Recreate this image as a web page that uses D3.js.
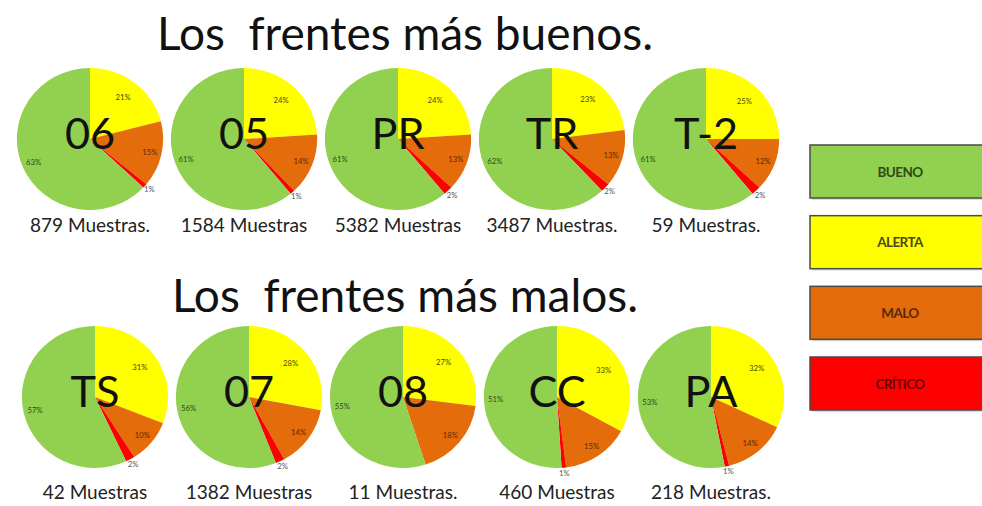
<!DOCTYPE html>
<html>
<head>
<meta charset="utf-8">
<script src="https://cdn.jsdelivr.net/npm/d3@7"></script>
<style>
	body { margin: 0; background: #ffffff; }
	svg text { font-family: Lato, "Open Sans", sans-serif; }
</style>
</head>
<body>
<div id="chart"></div>
<script>
var w = 982,
	h = 506;

// categorias (orden del dibujo: alerta, malo, critico, bueno)
var estados = ["ALERTA", "MALO", "CRÍTICO", "BUENO"];
var leyenda = ["BUENO", "ALERTA", "MALO", "CRÍTICO"];

// frentes buenos
var codigosTop = ["06", "05", "PR", "TR", "T-2"];
var muestrasTop = ["879 Muestras.", "1584 Muestras", "5382 Muestras", "3487 Muestras.", "59 Muestras."];
var buenoTop = [63, 61, 61, 62, 61];
var alertaTop = [21, 24, 24, 23, 25];
var maloTop = [15, 14, 13, 13, 12];
var criticoTop = [1, 1, 2, 2, 2];

// frentes malos
var codigosBot = ["TS", "07", "08", "CC", "PA"];
var muestrasBot = ["42 Muestras", "1382 Muestras", "11 Muestras.", "460 Muestras", "218 Muestras."];
var buenoBot = [57, 56, 55, 51, 53];
var alertaBot = [31, 28, 27, 33, 32];
var maloBot = [10, 14, 18, 15, 14];
var criticoBot = [2, 2, 0, 1, 1];

var color = d3.scaleOrdinal()
	.domain(estados)
	.range(["#ffff00", "#e46c0a", "#ff0000", "#92d050"]);

var textColor = d3.scaleOrdinal()
	.domain(estados)
	.range(["#4a4a10", "#5a2a06", "#6a0000", "#2e4a18"]);

var svg = d3.select("#chart")
	.append("svg")
	.attr("width", w)
	.attr("height", h);

var r = 71;
var pie = d3.pie().sort(null).value(function(d) { return d.v; });
var arc = d3.arc().innerRadius(0).outerRadius(r);

function fila(codigos, muestras, bueno, alerta, malo, critico, x0, x1, cy, titulo, tituloY, textoY) {
	svg.append("text")
		.attr("x", 405)
		.attr("y", tituloY)
		.attr("text-anchor", "middle")
		.attr("font-size", 46)
		.style("white-space", "pre")
		.attr("fill", "#111")
		.text(titulo);

	var x = d3.scalePoint().domain(codigos).range([x0, x1]);

	codigos.forEach(function(c, i) {
		var datos = [
			{k: "ALERTA", v: alerta[i]},
			{k: "MALO", v: malo[i]},
			{k: "CRÍTICO", v: critico[i]},
			{k: "BUENO", v: bueno[i]}
		];
		var g = svg.append("g")
			.attr("transform", "translate(" + x(c) + "," + cy + ") scale(1.03,1)");

		var slices = pie(datos);
		g.selectAll("path")
			.data(slices)
			.enter()
			.append("path")
			.attr("d", arc)
			.attr("fill", function(d) { return color(d.data.k); });

		g.selectAll(".pct")
			.data(slices.filter(function(d) { return d.data.v > 0; }))
			.enter()
			.append("text")
			.attr("class", "pct")
			.attr("transform", function(d) {
				var a = (d.startAngle + d.endAngle) / 2;
				var k = d.data.k == "CRÍTICO" ? 1.08 : (d.data.k == "ALERTA" ? 0.74 : 0.84);
				return "translate(" + (Math.sin(a) * r * k) + "," + (-Math.cos(a) * r * k) + ")";
			})
			.attr("dy", "0.35em")
			.attr("text-anchor", "middle")
			.attr("font-size", 7.5)
			.attr("fill", function(d) { return d.data.k == "CRÍTICO" ? "#555" : textColor(d.data.k); })
			.text(function(d) { return d.data.v + "%"; });

		g.append("text")
			.attr("y", 10)
			.attr("text-anchor", "middle")
			.attr("font-size", 42)
			.attr("fill", "#111")
			.text(c);

		svg.append("text")
			.attr("x", x(c))
			.attr("y", textoY)
			.attr("text-anchor", "middle")
			.attr("font-size", 19)
			.attr("fill", "#222")
			.text(muestras[i]);
	});
}

fila(codigosTop, muestrasTop, buenoTop, alertaTop, maloTop, criticoTop, 90, 706, 139, "Los  frentes más buenos.", 50, 232);
fila(codigosBot, muestrasBot, buenoBot, alertaBot, maloBot, criticoBot, 95, 711, 397, "Los  frentes más malos.", 312, 499);

// leyenda
var ly = d3.scalePoint().domain(leyenda).range([145, 357]);

var item = svg.selectAll(".ley")
	.data(leyenda)
	.enter()
	.append("g")
	.attr("class", "ley")
	.attr("transform", function(d) { return "translate(810," + ly(d) + ")"; });

item.append("rect")
	.attr("x", 2)
	.attr("y", 2)
	.attr("width", 190)
	.attr("height", 53)
	.attr("fill", "#bbbbbb")
	.attr("opacity", 0.5);

item.append("rect")
	.attr("width", 190)
	.attr("height", 53)
	.attr("fill", function(d) { return color(d); })
	.attr("stroke", "#4a4a4a")
	.attr("stroke-width", 1.5);

item.append("text")
	.attr("x", 90)
	.attr("y", 27)
	.attr("dy", "0.35em")
	.attr("text-anchor", "middle")
	.attr("font-size", 13.5)
	.attr("font-weight", "bold")
	.attr("letter-spacing", -0.6)
	.attr("fill", function(d) { return textColor(d); })
	.text(function(d) { return d; });
</script>
</body>
</html>
